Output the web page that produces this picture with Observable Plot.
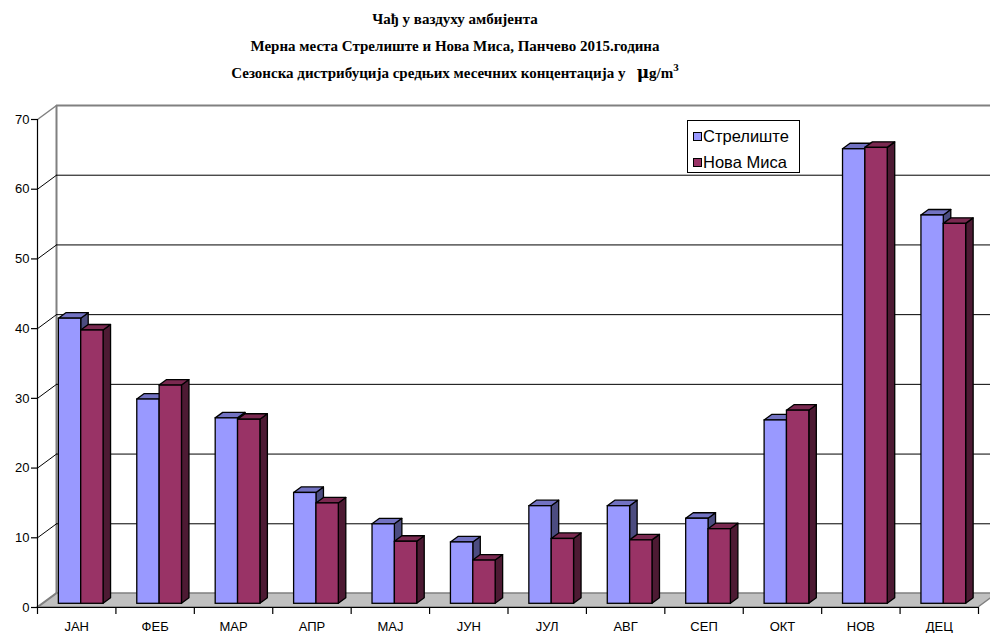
<!DOCTYPE html>
<html><head><meta charset="utf-8">
<script src="https://cdn.jsdelivr.net/npm/d3@7"></script>
<script src="https://cdn.jsdelivr.net/npm/@observablehq/plot@0.6"></script>
<style>
html,body{margin:0;padding:0;background:#fff}
body{width:990px;height:633px;overflow:hidden;position:relative;font-family:"Liberation Sans",Arial,sans-serif}
#title{position:absolute;left:0;top:0;width:910px;text-align:center;font-family:"Liberation Serif","Times New Roman",serif;font-weight:bold;font-size:15px;line-height:26.7px;padding-top:6px;color:#000}
#title sup{font-size:11px;line-height:0;vertical-align:7px}
#title .mu{font-family:"DejaVu Serif",serif;font-size:17px}
#chart{position:absolute;left:0;top:90px}
#legend{position:absolute;left:687px;top:120px;width:111px;height:51px;border:1px solid #000;background:#fff;font-size:16.5px;color:#000}
#legend .item{position:absolute;left:5px;height:18px;line-height:18px;white-space:nowrap}
#legend .sw{display:inline-block;width:7px;height:7px;border:1px solid #000;margin-right:1px;vertical-align:1px}
</style></head>
<body>
<div id="title">Чађ у ваздуху амбијента<br>Мерна места Стрелиште и Нова Миса, Панчево 2015.година<br>Сезонска дистрибуција средњих месечних концентација у&nbsp;&nbsp; <span class="mu">μ</span>g/m<sup>3</sup></div>
<div id="chart"></div>
<div id="legend"></div>
<script>
// ---- data ----
const months = ["ЈАН","ФЕБ","МАР","АПР","МАЈ","ЈУН","ЈУЛ","АВГ","СЕП","ОКТ","НОВ","ДЕЦ"];
const seriesNames = ["Стрелиште","Нова Миса"];
const strelishte = [40.9,29.3,26.6,15.9,11.4,8.8,14.0,14.0,12.2,26.3,65.2,55.7];
const novaMisa   = [39.2,31.3,26.4,14.4,8.9,6.2,9.3,9.1,10.7,27.7,65.4,54.5];
const yTicks = [0,10,20,30,40,50,60,70];

// ---- styling / layout ----
const colors = [
  {front:"#9999ff", top:"#7272c2", side:"#4c4c80"},
  {front:"#993366", top:"#7a2950", side:"#4d1a33"}
];
const W = 990, H = 543, ML = 37, MR = 12, MT = 29, MB = 26;
const kx = (W - ML - MR) / months.length;   // px per x unit
const ky = (H - MT - MB) / 70;              // px per y unit
const BX = 19 / kx, BY = 14 / ky;           // back-wall depth
const PX = 4.5 / kx, PY = 3.7 / ky;         // bar plane depth
const DX = 7.5 / kx, DY = 5.5 / ky;         // bar depth
const gap = 0.215, bw = 0.285;

const seriesVals = [strelishte, novaMisa];
const marks = [];

// floor
marks.push(Plot.areaX([{y:0,x1:0,x2:12},{y:BY,x1:BX,x2:12+BX}], {y:"y",x1:"x1",x2:"x2",fill:"#c0c0c0",stroke:"#808080",strokeWidth:1.5}));
// back wall edges
marks.push(Plot.ruleX([BX], {y1:BY, y2:70+BY, stroke:"#808080", strokeWidth:2}));
marks.push(Plot.ruleY([70+BY], {x1:BX, x2:12.5, stroke:"#808080", strokeWidth:2}));
// back gridlines
marks.push(Plot.ruleY(yTicks.filter(t => t > 0 && t < 70), {y: t => t + BY, x1:BX, x2:12.5, stroke:"#000", strokeWidth:1}));
// left wall diagonals
marks.push(Plot.link(yTicks, {x1:0, y1:t => t, x2:BX, y2:t => t + BY, stroke:t => (t===0||t===70) ? "#808080" : "#000", strokeWidth:t => (t===0||t===70) ? 1.5 : 1}));
// front y axis line and x axis line
marks.push(Plot.ruleX([0], {y1:0, y2:70, stroke:"#000", strokeWidth:1.2}));
marks.push(Plot.ruleY([0], {x1:0, x2:12, stroke:"#000", strokeWidth:1.2}));

// bars
seriesVals.forEach((vals, s) => {
  const bars = vals.map((v, i) => {
    const x1 = i + gap + s * bw + PX;
    return {id: i, x1, x2: x1 + bw, y1: PY, y2: v + PY};
  });
  const side = bars.flatMap(b => [
    {id:b.id, x:b.x2, y1:b.y1, y2:b.y2},
    {id:b.id, x:b.x2 + DX, y1:b.y1 + DY, y2:b.y2 + DY}
  ]);
  const top = bars.flatMap(b => [
    {id:b.id, y:b.y2, x1:b.x1, x2:b.x2},
    {id:b.id, y:b.y2 + DY, x1:b.x1 + DX, x2:b.x2 + DX}
  ]);
  marks.push(Plot.areaY(side, {x:"x", y1:"y1", y2:"y2", z:"id", fill:colors[s].side, stroke:"#000", strokeWidth:1.3, strokeLinejoin:"round"}));
  marks.push(Plot.areaX(top, {y:"y", x1:"x1", x2:"x2", z:"id", fill:colors[s].top, stroke:"#000", strokeWidth:1.3, strokeLinejoin:"round"}));
  marks.push(Plot.rect(bars, {x1:"x1", x2:"x2", y1:"y1", y2:"y2", fill:colors[s].front, stroke:"#000", strokeWidth:1.3}));
});

// axes
marks.push(Plot.axisY(yTicks, {tickSize:6, tickPadding:2, fontSize:13, stroke:"#000", strokeWidth:1.2}));
marks.push(Plot.axisX(d3.range(months.length + 1), {tickSize:7, tickFormat:() => "", stroke:"#000", strokeWidth:1.2}));
marks.push(Plot.axisX(months.map((m, i) => i + 0.5), {tickSize:0, tickPadding:14, fontSize:13, tickFormat:d => months[Math.floor(d)]}));

const chart = Plot.plot({
  width: W, height: H,
  marginLeft: ML, marginRight: MR, marginTop: MT, marginBottom: MB,
  x: {type:"linear", domain:[0, months.length], label:null},
  y: {type:"linear", domain:[0, 70], label:null},
  style: {fontFamily:"'Liberation Sans', Arial, sans-serif", fontSize:"13px", color:"#000", background:"#fff"},
  marks
});
document.getElementById("chart").appendChild(chart);

// legend
const lg = document.getElementById("legend");
seriesNames.forEach((n, s) => {
  const it = document.createElement("div");
  it.className = "item";
  it.style.top = (s === 0 ? 6 : 32) + "px";
  it.innerHTML = `<span class="sw" style="background:${colors[s].front}"></span>${n}`;
  lg.appendChild(it);
});
</script>
</body></html>
